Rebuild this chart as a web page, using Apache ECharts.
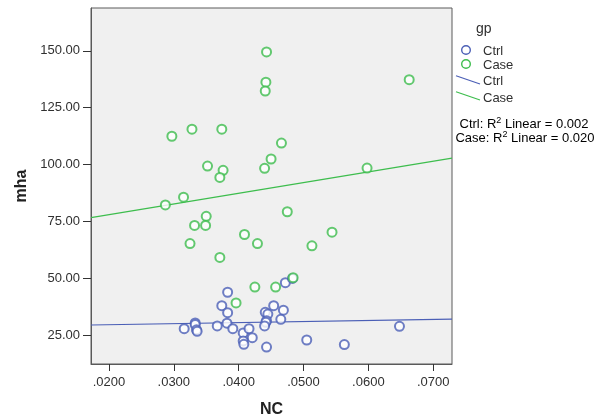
<!DOCTYPE html>
<html>
<head>
<meta charset="utf-8">
<script src="https://cdn.jsdelivr.net/npm/echarts@6/dist/echarts.min.js"></script>
<style>
html,body{margin:0;padding:0;background:#fff;}
#c{width:607px;height:419px;}
</style>
</head>
<body>
<div id="c"></div>
<script>
// ---- data ----
var ctrlNC  = [0.0383,0.0472,0.0483,0.0374,0.0383,0.0454,0.0469,0.0441,0.0445,0.0465,0.0443,0.0442,0.0440,0.0316,0.0333,0.0333,0.0335,0.0336,0.0367,0.0382,0.0391,0.0407,0.0416,0.0421,0.0407,0.0408,0.0443,0.0505,0.0563,0.0648];
var ctrlMHA = [43.8,48.0,49.9,37.9,34.8,37.9,35.9,35.0,34.2,31.9,31.3,30.6,29.0,27.8,30.3,29.6,27.3,26.6,29.0,30.2,27.8,25.9,27.8,23.8,22.4,20.9,19.7,22.8,20.8,28.8];
var caseNC  = [0.0443,0.0663,0.0442,0.0441,0.0297,0.0328,0.0374,0.0466,0.0450,0.0352,0.0376,0.0440,0.0598,0.0371,0.0287,0.0315,0.0350,0.0332,0.0349,0.0475,0.0409,0.0429,0.0325,0.0544,0.0513,0.0371,0.0484,0.0425,0.0457,0.0396];
var caseMHA = [149.5,137.3,136.2,132.3,112.4,115.5,115.5,109.4,102.4,99.3,97.4,98.3,98.4,94.3,82.2,85.6,77.2,73.2,73.2,79.2,69.2,65.2,65.2,70.2,64.2,59.1,50.2,46.1,46.1,39.1];
// fitted lines (endpoints at the plot edges)
var fitNC   = [0.01723, 0.0729];
var ctrlFit = [29.4, 32.0];
var caseFit = [76.6, 102.8];
var xTicks = [0.02,0.03,0.04,0.05,0.06,0.07];
var yTicks = [25,50,75,100,125,150];
var xRange = [0.01723, 0.0729];
var yRange = [12.25, 168.8];
var groupTitle = 'gp';
var groupNames = ['Ctrl','Case'];
var r2Text = ['0.002','0.020'];

function pairs(a,b){ return a.map(function(v,i){ return [v,b[i]]; }); }

var BLUE = '#4b5fb6', GREEN = '#3dbd4d', TXT = '#303030';
var FONT = '"Liberation Sans", Arial, sans-serif';

function txt(x,y,s,size,align){
  return {type:'text',x:x,y:y,style:{text:s,font:size+'px '+FONT,fill:TXT,align:align||'left',verticalAlign:'middle'}};
}
function r2(x,y,name,val){
  return {type:'text',x:x,y:y,style:{
    text:'{a|'+name+': R}{s|2}{a| Linear = '+val+'}',align:'center',verticalAlign:'middle',
    rich:{a:{fontSize:13,fontFamily:FONT,color:TXT},
          s:{fontSize:9,fontFamily:FONT,color:TXT,verticalAlign:'top',padding:[0,0,6,0]}}}};
}

var chart = echarts.init(document.getElementById('c'));
chart.setOption({
  animation:false,
  grid:{left:91,right:155,top:8,bottom:55,containLabel:false,outerBoundsMode:'none',
    show:true,backgroundColor:'#f0f0f0',borderColor:'#5a5a5a',borderWidth:1},
  xAxis:{type:'value',min:xRange[0],max:xRange[1],
    name:'NC',nameLocation:'middle',nameGap:38,
    nameTextStyle:{fontFamily:FONT,fontSize:16,fontWeight:'bold',color:'#222'},
    axisLine:{show:true,lineStyle:{color:'#5a5a5a'}},
    axisTick:{show:true,length:7,lineStyle:{color:'#333'},customValues:xTicks},
    axisLabel:{customValues:xTicks,margin:12,fontFamily:FONT,fontSize:13,color:TXT,
      formatter:function(v){ return v.toFixed(4).replace(/^0/,''); }},
    splitLine:{show:false}},
  yAxis:{type:'value',min:yRange[0],max:yRange[1],
    name:'mha',nameLocation:'middle',nameGap:60,
    nameTextStyle:{fontFamily:FONT,fontSize:16,fontWeight:'bold',color:'#222'},
    axisLine:{show:true,lineStyle:{color:'#5a5a5a'}},
    axisTick:{show:true,length:8,lineStyle:{color:'#333'},customValues:yTicks},
    axisLabel:{customValues:yTicks,margin:11,fontFamily:FONT,fontSize:13,color:TXT,
      formatter:function(v){ return v.toFixed(2); }},
    splitLine:{show:false}},
  series:[
    {type:'scatter',name:'Ctrl',data:pairs(ctrlNC,ctrlMHA),symbol:'emptyCircle',symbolSize:9,
      itemStyle:{color:BLUE,borderColor:BLUE,borderWidth:1.4},z:3},
    {type:'scatter',name:'Case',data:pairs(caseNC,caseMHA),symbol:'emptyCircle',symbolSize:9,
      itemStyle:{color:GREEN,borderColor:GREEN,borderWidth:1.4},z:4},
    {type:'line',name:'CtrlFit',data:pairs(fitNC,ctrlFit),showSymbol:false,symbol:'none',
      lineStyle:{color:BLUE,width:1.2},z:2},
    {type:'line',name:'CaseFit',data:pairs(fitNC,caseFit),showSymbol:false,symbol:'none',
      lineStyle:{color:GREEN,width:1.2},z:2}
  ],
  graphic:[
    txt(476,29,groupTitle,14),
    {type:'circle',shape:{cx:466,cy:50,r:4.3},style:{fill:'none',stroke:BLUE,lineWidth:1.4}},
    txt(483,51,groupNames[0],13),
    {type:'circle',shape:{cx:466,cy:64,r:4.3},style:{fill:'none',stroke:GREEN,lineWidth:1.4}},
    txt(483,65,groupNames[1],13),
    {type:'line',shape:{x1:456,y1:75.7,x2:480,y2:84},style:{stroke:BLUE,lineWidth:1.2}},
    txt(483,81,groupNames[0],13),
    {type:'line',shape:{x1:456,y1:91.7,x2:480,y2:100},style:{stroke:GREEN,lineWidth:1.2}},
    txt(483,98,groupNames[1],13),
    r2(524,124,groupNames[0],r2Text[0]),
    r2(525,138,groupNames[1],r2Text[1])
  ]
});
</script>
</body>
</html>
